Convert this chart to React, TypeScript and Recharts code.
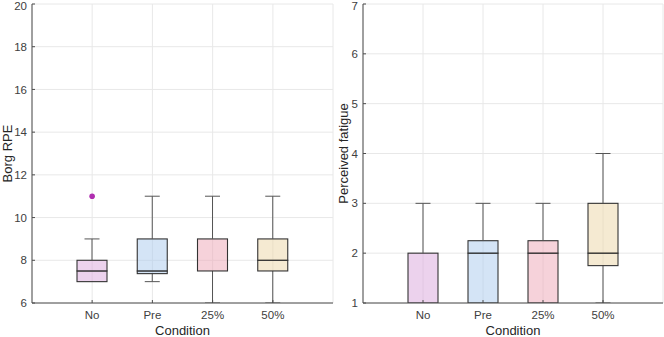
import { ComposedChart, Bar, Scatter, XAxis, YAxis, CartesianGrid } from "recharts";

const conditions = ["No", "Pre", "25%", "50%"];
const boxColors = ["#D9A6DB", "#A9CAEE", "#EEA5B5", "#EBD5A5"];

// Borg RPE (left panel)
const rpeMin = [7, 7, 6, 6];
const rpeQ1 = [7, 7.375, 7.5, 7.5];
const rpeMedian = [7.5, 7.5, 7.5, 8];
const rpeQ3 = [8, 9, 9, 9];
const rpeMax = [9, 11, 11, 11];
const rpeOutliers = [11, null, null, null];
const rpeTicks = [6, 8, 10, 12, 14, 16, 18, 20];

// Perceived fatigue (right panel)
const fatigueMin = [1, 1, 1, 1];
const fatigueQ1 = [1, 1, 1, 1.75];
const fatigueMedian = [2, 2, 2, 2];
const fatigueQ3 = [2, 2.25, 2.25, 3];
const fatigueMax = [3, 3, 3, 4];
const fatigueOutliers = [null, null, null, null];
const fatigueTicks = [1, 2, 3, 4, 5, 6, 7];

const FONT = "'Liberation Sans', Arial, Helvetica, sans-serif";
const AXIS = "#4d4d4d";

function buildRows(
  mins: number[],
  q1s: number[],
  medians: number[],
  q3s: number[],
  maxs: number[],
  outliers: (number | null)[]
) {
  return conditions.map((name, i) => ({
    name,
    base: mins[i],
    whiskerLow: q1s[i] - mins[i],
    boxLow: medians[i] - q1s[i],
    boxHigh: q3s[i] - medians[i],
    whiskerHigh: maxs[i] - q3s[i],
    outlier: outliers[i],
  }));
}

const Empty = () => <g />;

const WhiskerLow = (props: any) => {
  const { x, y, width, height } = props;
  if (!height || height <= 0) return <g />;
  const cx = x + width / 2;
  const bottom = y + height;
  return (
    <g stroke="#555" strokeWidth={1}>
      <line x1={cx} x2={cx} y1={y} y2={bottom} />
      <line x1={cx - width / 4} x2={cx + width / 4} y1={bottom} y2={bottom} />
    </g>
  );
};

const WhiskerHigh = (props: any) => {
  const { x, y, width, height } = props;
  if (!height || height <= 0) return <g />;
  const cx = x + width / 2;
  return (
    <g stroke="#555" strokeWidth={1}>
      <line x1={cx} x2={cx} y1={y} y2={y + height} />
      <line x1={cx - width / 4} x2={cx + width / 4} y1={y} y2={y} />
    </g>
  );
};

const BoxPart = (props: any) => {
  const { x, y, width, height, index } = props;
  if (!height || height <= 0) return <g />;
  return (
    <rect
      x={x}
      y={y}
      width={width}
      height={height}
      fill={boxColors[index]}
      fillOpacity={0.5}
      stroke="#333"
      strokeWidth={1.1}
    />
  );
};

const OutlierDot = (props: any) => {
  const { cx, cy, payload } = props;
  if (payload == null || payload.outlier == null || !isFinite(cy)) return <g />;
  return <circle cx={cx} cy={cy} r={2.8} fill="#B02EB0" />;
};

function BoxPanel({
  rows,
  domain,
  ticks,
  yLabel,
  width,
  yAxisWidth,
  titleGap,
}: {
  rows: ReturnType<typeof buildRows>;
  domain: [number, number];
  ticks: number[];
  yLabel: string;
  width: number;
  yAxisWidth: number;
  titleGap: number;
}) {
  return (
    <ComposedChart
      width={width}
      height={337}
      data={rows}
      margin={{ top: 4, right: 1, bottom: 0, left: 0 }}
      barSize={30}
    >
      <CartesianGrid stroke="#e8e8e8" />
      <XAxis
        dataKey="name"
        interval={0}
        padding={{ left: 30, right: 30 }}
        height={34}
        tickSize={-3}
        tickMargin={11}
        axisLine={{ stroke: AXIS }}
        tickLine={{ stroke: AXIS }}
        tick={{ fill: "#404040", fontSize: 11.5, fontFamily: FONT }}
        label={(p: any) => {
          const vb = p.viewBox;
          return (
            <text
              x={vb.x + vb.width / 2}
              y={vb.y + 32}
              textAnchor="middle"
              fill="#262626"
              fontSize={13}
              fontFamily={FONT}
            >
              Condition
            </text>
          );
        }}
      />
      <YAxis
        type="number"
        domain={domain}
        ticks={ticks}
        allowDataOverflow
        width={yAxisWidth}
        tickSize={-3}
        tickMargin={8}
        axisLine={{ stroke: AXIS }}
        tickLine={{ stroke: AXIS }}
        tick={{ fill: "#404040", fontSize: 11.5, fontFamily: FONT }}
        label={(p: any) => {
          const vb = p.viewBox;
          const tx = vb.x + vb.width - titleGap;
          const ty = vb.y + vb.height / 2;
          return (
            <text
              x={tx}
              y={ty}
              dy="0.35em"
              transform={`rotate(-90, ${tx}, ${ty})`}
              textAnchor="middle"
              fill="#262626"
              fontSize={13}
              fontFamily={FONT}
            >
              {yLabel}
            </text>
          );
        }}
      />
      <Bar dataKey="base" stackId="box" shape={Empty} isAnimationActive={false} />
      <Bar dataKey="whiskerLow" stackId="box" shape={WhiskerLow} isAnimationActive={false} />
      <Bar dataKey="boxLow" stackId="box" shape={BoxPart} isAnimationActive={false} />
      <Bar dataKey="boxHigh" stackId="box" shape={BoxPart} isAnimationActive={false} />
      <Bar dataKey="whiskerHigh" stackId="box" shape={WhiskerHigh} isAnimationActive={false} />
      <Scatter dataKey="outlier" shape={OutlierDot} isAnimationActive={false} />
    </ComposedChart>
  );
}

export default function App() {
  const rpeRows = buildRows(rpeMin, rpeQ1, rpeMedian, rpeQ3, rpeMax, rpeOutliers);
  const fatigueRows = buildRows(
    fatigueMin,
    fatigueQ1,
    fatigueMedian,
    fatigueQ3,
    fatigueMax,
    fatigueOutliers
  );
  return (
    <div style={{ position: "relative", width: 664, height: 337, background: "#fff" }}>
      <style>{"body{margin:0}"}</style>
      <div style={{ position: "absolute", left: 0, top: 0 }}>
        <BoxPanel
          rows={rpeRows}
          domain={[6, 20]}
          ticks={rpeTicks}
          yLabel="Borg RPE"
          width={334}
          yAxisWidth={32}
          titleGap={25}
        />
      </div>
      <div style={{ position: "absolute", left: 332, top: 0 }}>
        <BoxPanel
          rows={fatigueRows}
          domain={[1, 7]}
          ticks={fatigueTicks}
          yLabel="Perceived fatigue"
          width={332}
          yAxisWidth={31}
          titleGap={20}
        />
      </div>
    </div>
  );
}
